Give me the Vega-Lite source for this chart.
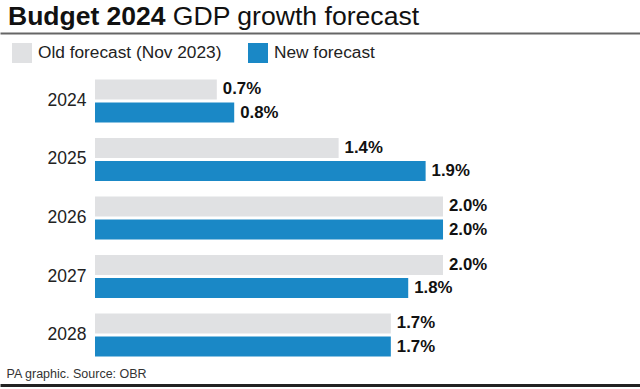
{
  "$schema": "https://vega.github.io/schema/vega-lite/v6.json",
  "width": 640,
  "height": 352,
  "autosize": {"type": "none"},
  "padding": {"top": 33, "left": 0, "right": 0, "bottom": 4},
  "background": "white",
  "config": {"view": {"stroke": null}, "font": "Liberation Sans"},
  "title": {
    "text": "Budget 2024",
    "subtitle": "\u200b\u00a0\u00a0\u00a0\u00a0\u00a0\u00a0\u00a0\u00a0\u00a0\u00a0\u00a0\u00a0\u00a0\u00a0\u00a0\u00a0\u00a0\u00a0\u00a0\u00a0\u00a0\u00a0\u200aGDP growth forecast",
    "anchor": "start",
    "frame": "group",
    "orient": "top",
    "dx": 8,
    "offset": 2,
    "fontSize": 26.5,
    "fontWeight": "bold",
    "color": "#111111",
    "subtitleFontSize": 26.6,
    "subtitleFontWeight": "normal",
    "subtitleColor": "#111111",
    "subtitlePadding": -26.5
  },
  "data": {
    "values": [
      {"year": "2024", "series": "Old forecast (Nov 2023)", "value": 0.7, "label": "0.7%"},
      {"year": "2024", "series": "New forecast", "value": 0.8, "label": "0.8%"},
      {"year": "2025", "series": "Old forecast (Nov 2023)", "value": 1.4, "label": "1.4%"},
      {"year": "2025", "series": "New forecast", "value": 1.9, "label": "1.9%"},
      {"year": "2026", "series": "Old forecast (Nov 2023)", "value": 2.0, "label": "2.0%"},
      {"year": "2026", "series": "New forecast", "value": 2.0, "label": "2.0%"},
      {"year": "2027", "series": "Old forecast (Nov 2023)", "value": 2.0, "label": "2.0%"},
      {"year": "2027", "series": "New forecast", "value": 1.8, "label": "1.8%"},
      {"year": "2028", "series": "Old forecast (Nov 2023)", "value": 1.7, "label": "1.7%"},
      {"year": "2028", "series": "New forecast", "value": 1.7, "label": "1.7%"}
    ]
  },
  "encoding": {
    "y": {
      "field": "year",
      "type": "nominal",
      "sort": ["2024", "2025", "2026", "2027", "2028"],
      "scale": {"paddingInner": 0.265, "paddingOuter": 0.641, "align": 0.62},
      "axis": {
        "orient": "left",
        "offset": -95,
        "domain": false,
        "ticks": false,
        "grid": false,
        "title": null,
        "labelFontSize": 17.5,
        "labelColor": "#222222",
        "labelPadding": 9
      }
    },
    "yOffset": {
      "field": "series",
      "type": "nominal",
      "sort": ["Old forecast (Nov 2023)", "New forecast"],
      "scale": {"paddingInner": 0.14, "paddingOuter": 0}
    }
  },
  "layer": [
    {
      "mark": {"type": "bar"},
      "encoding": {
        "x": {
          "field": "value",
          "type": "quantitative",
          "scale": {"domain": [-0.546, 3.132], "zero": false, "nice": false},
          "axis": {
            "orient": "top",
            "labels": false,
            "ticks": false,
            "grid": false,
            "title": null,
            "domain": true,
            "domainColor": "#666666",
            "domainWidth": 2
          }
        },
        "x2": {"datum": 0},
        "color": {
          "field": "series",
          "type": "nominal",
          "scale": {
            "domain": ["Old forecast (Nov 2023)", "New forecast"],
            "range": ["#e0e1e3", "#1a88c6"]
          },
          "legend": {
            "orient": "none",
            "legendX": 12,
            "legendY": 10,
            "direction": "horizontal",
            "title": null,
            "symbolType": "square",
            "symbolSize": 400,
            "symbolStrokeWidth": 0,
            "labelFontSize": 17.3,
            "labelColor": "#222222",
            "labelOffset": 6,
            "labelLimit": 400,
            "columnPadding": 26
          }
        }
      }
    },
    {
      "mark": {
        "type": "text",
        "align": "left",
        "baseline": "middle",
        "dx": 6,
        "fontWeight": "bold",
        "fontSize": 16.8,
        "color": "#111111"
      },
      "encoding": {
        "x": {
          "field": "value",
          "type": "quantitative",
          "axis": {
            "orient": "bottom",
            "labels": false,
            "ticks": false,
            "grid": false,
            "domain": true,
            "domainColor": "#222222",
            "domainWidth": 3,
            "title": "PA graphic. Source: OBR",
            "titleX": 6,
            "titleY": -8,
            "titleAlign": "left",
            "titleAnchor": "start",
            "titleBaseline": "alphabetic",
            "titleFontSize": 12.5,
            "titleFontWeight": "normal",
            "titleColor": "#333333"
          }
        },
        "text": {"field": "label"}
      }
    }
  ],
  "resolve": {"axis": {"x": "independent"}}
}
